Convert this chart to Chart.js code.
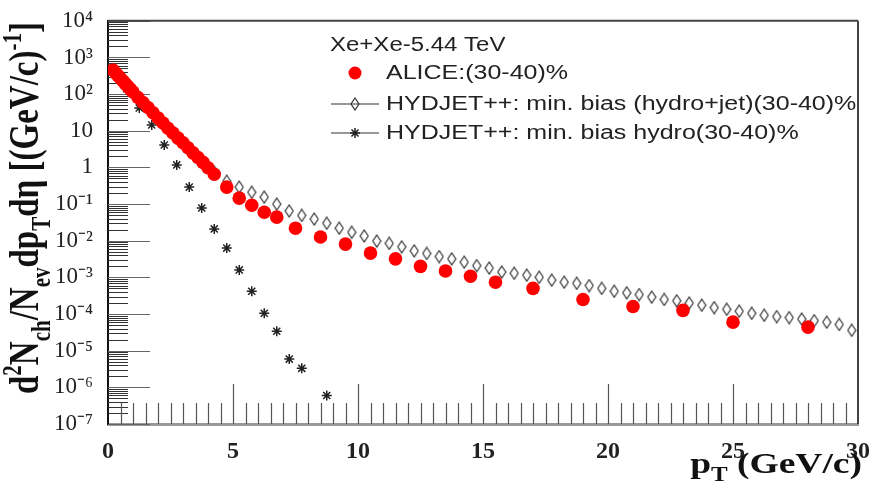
<!DOCTYPE html>
<html>
<head>
<meta charset="utf-8">
<script src="https://cdn.jsdelivr.net/npm/chart.js@4.4.1/dist/chart.umd.min.js"></script>
<style>
  html, body { margin: 0; padding: 0; background: #fff; }
  #wrap { width: 875px; height: 491px; }
</style>
</head>
<body>
<div id="wrap"><canvas id="spectra" width="875" height="491"></canvas></div>
<script>
// valori (pT in GeV/c, resa in (GeV/c)^-1)
const alicePt = [0.2, 0.3, 0.4, 0.5, 0.6, 0.7, 0.8, 0.9, 1.0,
  1.2, 1.4, 1.6, 1.8, 2.0, 2.2, 2.4, 2.6, 2.8, 3.0, 3.2, 3.4, 3.6, 3.8, 4.0,
  4.25, 4.75, 5.25, 5.75, 6.25, 6.75,
  7.5, 8.5, 9.5, 10.5, 11.5, 12.5, 13.5, 14.5, 15.5,
  17, 19, 21, 23, 25, 28];
const aliceYield = [455, 380, 320, 270, 228, 190, 160, 135, 114,
  81, 59, 43, 31, 22.4, 16.3, 11.7, 8.7, 6.3, 4.7, 3.45, 2.5, 1.86, 1.37, 0.98,
  0.65, 0.29, 0.145, 0.093, 0.060, 0.044,
  0.022, 0.0126, 0.0081, 0.0046, 0.0032, 0.0020, 0.0015, 0.00107, 0.00074,
  5.0e-4, 2.5e-4, 1.6e-4, 1.26e-4, 6.0e-5, 4.4e-5];

const hydroJetPt = [0.25, 0.75, 1.25, 1.75, 2.25, 2.75, 3.25, 3.75, 4.25, 4.75,
  5.25, 5.75, 6.25, 6.75, 7.25, 7.75, 8.25, 8.75, 9.25, 9.75,
  10.25, 10.75, 11.25, 11.75, 12.25, 12.75, 13.25, 13.75, 14.25, 14.75,
  15.25, 15.75, 16.25, 16.75, 17.25, 17.75, 18.25, 18.75, 19.25, 19.75,
  20.25, 20.75, 21.25, 21.75, 22.25, 22.75, 23.25, 23.75, 24.25, 24.75,
  25.25, 25.75, 26.25, 26.75, 27.25, 27.75, 28.25, 28.75, 29.25, 29.75];
const hydroJetYield = [420, 180, 75, 33, 15, 6.8, 3.2, 1.5, 0.75, 0.42,
  0.29, 0.21, 0.155, 0.10, 0.065, 0.049, 0.039, 0.030, 0.022, 0.017,
  0.0135, 0.0098, 0.0085, 0.0068, 0.0053, 0.0045, 0.0037, 0.0032, 0.0026, 0.0021,
  0.0018, 0.0014, 0.0013, 0.00115, 0.00101, 8.4e-4, 7.4e-4, 6.9e-4, 6.0e-4, 5.0e-4,
  4.2e-4, 3.8e-4, 3.4e-4, 2.9e-4, 2.5e-4, 2.3e-4, 2.0e-4, 1.75e-4, 1.5e-4, 1.35e-4,
  1.2e-4, 1.05e-4, 9.3e-5, 8.5e-5, 8.0e-5, 7.3e-5, 6.6e-5, 6.0e-5, 5.2e-5, 3.6e-5];

const hydroPt = [0.25, 0.75, 1.25, 1.75, 2.25, 2.75, 3.25, 3.75, 4.25, 4.75,
  5.25, 5.75, 6.25, 6.75, 7.25, 7.75, 8.75];
const hydroYield = [420, 140, 42, 14.4, 4.1, 1.17, 0.29, 0.078, 0.021, 0.0063,
  0.0016, 4.2e-4, 1.05e-4, 3.4e-5, 5.9e-6, 3.3e-6, 6.0e-7];

const xTickValues = [0, 5, 10, 15, 20, 25, 30];
const yTickValues = [1e-7, 1e-6, 1e-5, 1e-4, 1e-3, 1e-2, 1e-1, 1, 10, 1e2, 1e3, 1e4];
const yTickLabels = ['10⁻⁷', '10⁻⁶', '10⁻⁵', '10⁻⁴', '10⁻³', '10⁻²', '10⁻¹', '1', '10', '10²', '10³', '10⁴'];

const legendHeader = 'Xe+Xe-5.44 TeV';
const seriesNames = ['ALICE:(30-40)%', 'HYDJET++: min. bias (hydro+jet)(30-40)%', 'HYDJET++: min. bias hydro(30-40)%'];

const zip = (xs, ys) => xs.map((x, i) => ({ x: x, y: ys[i] }));

// marcatore a rombo vuoto (stile ROOT)
function makeDiamond() {
  const c = document.createElement('canvas');
  c.width = 10; c.height = 14;
  const g = c.getContext('2d');
  g.strokeStyle = '#333';
  g.lineWidth = 1.2;
  g.beginPath();
  g.moveTo(5, 1); g.lineTo(9, 7); g.lineTo(5, 13); g.lineTo(1, 7);
  g.closePath();
  g.stroke();
  return c;
}
const diamond = makeDiamond();

const SX = 1.25; // testo allargato in orizzontale come nell'originale

function drawRich(ctx, segs, size, family, weight) {
  const fontOf = s => `${weight} ${s.sub || s.sup ? Math.round(size * 0.65) : size}px ${family}`;
  let w = 0;
  segs.forEach(s => { ctx.font = fontOf(s); w += ctx.measureText(s.t).width; });
  return {
    width: w,
    draw(x0) {
      let x = x0;
      segs.forEach(s => {
        ctx.font = fontOf(s);
        const dy = s.sub ? size * 0.28 : (s.sup ? -size * 0.42 : 0);
        ctx.fillText(s.t, x, dy);
        x += ctx.measureText(s.t).width;
      });
    }
  };
}

// tacche interne, cornice, titoli e legenda
const rootFrame = {
  id: 'rootFrame',
  beforeDatasetsDraw(chart) {
    const { ctx, chartArea: a, scales: { x, y } } = chart;
    ctx.save();
    const line = (x1, y1, x2, y2) => { ctx.beginPath(); ctx.moveTo(x1, y1); ctx.lineTo(x2, y2); ctx.stroke(); };

    // tacche minori asse y
    ctx.strokeStyle = '#333';
    ctx.lineWidth = 1;
    for (let e = -7; e < 4; e++) {
      for (let m = 2; m < 10; m++) {
        const py = Math.round(y.getPixelForValue(m * Math.pow(10, e))) + 0.5;
        line(a.left, py, a.left + 20, py);
      }
    }
    // tacche maggiori asse y
    ctx.strokeStyle = '#666';
    yTickValues.forEach(v => {
      const py = Math.round(y.getPixelForValue(v)) + 0.5;
      line(a.left, py, a.left + 42, py);
    });

    // tacche asse x (ogni 0.5, maggiori ogni 5)
    ctx.strokeStyle = '#555';
    ctx.lineWidth = 1.2;
    for (let i = 1; i < 60; i++) {
      const px = Math.round(x.getPixelForValue(i * 0.5)) + 0.5;
      line(px, a.bottom, px, a.bottom - (i % 10 === 0 ? 40 : 21));
    }

    // cornice superiore e destra
    ctx.strokeStyle = '#444';
    ctx.lineWidth = 2;
    line(a.left, a.top, a.right, a.top);
    line(a.right, a.top, a.right, a.bottom);
    ctx.restore();
  },
  afterDraw(chart) {
    const { ctx } = chart;
    ctx.save();
    ctx.fillStyle = '#111';
    ctx.textBaseline = 'alphabetic';

    // titolo asse y
    const yt = drawRich(ctx, [
      { t: 'd' }, { t: '2', sup: true }, { t: 'N' }, { t: 'ch', sub: true },
      { t: '/N' }, { t: 'ev', sub: true }, { t: 'dp' }, { t: 'T', sub: true },
      { t: 'dη [(GeV/c)' }, { t: '-1', sup: true }, { t: ']' }
    ], 33, '"Liberation Serif"', 'bold');
    ctx.save();
    ctx.translate(38, 208);
    ctx.scale(SX, 1);
    ctx.rotate(-Math.PI / 2);
    yt.draw(-yt.width / 2);
    ctx.restore();

    // titolo asse x
    const xt = drawRich(ctx, [{ t: 'p' }, { t: 'T', sub: true }, { t: ' (GeV/c)' }], 30, '"Liberation Serif"', 'bold');
    ctx.save();
    ctx.translate(862, 473);
    ctx.scale(SX, 1);
    xt.draw(-xt.width);
    ctx.restore();

    // legenda
    ctx.font = '20px "Liberation Sans"';
    ctx.fillStyle = '#222';
    ctx.textBaseline = 'middle';
    const text = (s, tx, ty, k) => { ctx.save(); ctx.translate(tx, ty); ctx.scale(k, 1); ctx.fillText(s, 0, 0); ctx.restore(); };
    text(legendHeader, 330, 45, 1.2);

    const rows = [73, 104, 133];
    const mx = 355, tx = 386;
    ctx.fillStyle = '#f00';
    ctx.beginPath(); ctx.arc(mx, rows[0], 6.5, 0, Math.PI * 2); ctx.fill();

    ctx.strokeStyle = '#333';
    ctx.lineWidth = 1.2;
    [rows[1], rows[2]].forEach(ry => {
      ctx.beginPath(); ctx.moveTo(331, ry); ctx.lineTo(379, ry); ctx.stroke();
    });
    ctx.drawImage(diamond, mx - diamond.width / 2, rows[1] - diamond.height / 2);
    ctx.strokeStyle = '#222';
    ctx.lineWidth = 1.5;
    Chart.helpers.drawPoint(ctx, { pointStyle: 'star', radius: 5, borderWidth: 1.5 }, mx, rows[2]);

    ctx.fillStyle = '#222';
    seriesNames.forEach((s, i) => text(s, tx, rows[i], SX));
    ctx.restore();
  }
};

new Chart(document.getElementById('spectra'), {
  type: 'scatter',
  data: {
    datasets: [
      {
        label: seriesNames[0],
        data: zip(alicePt, aliceYield),
        pointStyle: 'circle',
        pointRadius: 6.8,
        backgroundColor: '#ff0000',
        borderColor: '#ff0000',
        borderWidth: 0,
        order: 0
      },
      {
        label: seriesNames[1],
        data: zip(hydroJetPt, hydroJetYield),
        pointStyle: diamond,
        pointRadius: 6,
        order: 1
      },
      {
        label: seriesNames[2],
        data: zip(hydroPt, hydroYield),
        pointStyle: 'star',
        pointRadius: 5,
        borderColor: '#222',
        borderWidth: 1.5,
        order: 2
      }
    ]
  },
  options: {
    responsive: false,
    animation: false,
    events: [],
    layout: { padding: { top: 20, right: 12, left: 0, bottom: 0 } },
    plugins: { legend: { display: false }, tooltip: { enabled: false } },
    scales: {
      x: {
        type: 'linear',
        min: 0,
        max: 30,
        afterBuildTicks: s => { s.ticks = xTickValues.map(v => ({ value: v })); },
        afterFit: s => { s.height = 67; },
        grid: { display: false },
        border: { color: '#999', width: 3 },
        ticks: {
          autoSkip: false,
          maxRotation: 0,
          padding: 5,
          color: '#222',
          font: { family: '"Liberation Serif"', size: 24, weight: 'bold' }
        }
      },
      y: {
        type: 'logarithmic',
        min: 1e-7,
        max: 1e4,
        afterBuildTicks: s => { s.ticks = yTickValues.map(v => ({ value: v })); },
        afterFit: s => { s.width = 108; },
        grid: { display: false },
        border: { color: '#111', width: 2 },
        ticks: {
          autoSkip: false,
          padding: 7,
          color: '#222',
          font: { family: '"Liberation Serif"', size: 23 },
          callback: (v, i) => yTickLabels[i]
        }
      }
    }
  },
  plugins: [rootFrame]
});
</script>
</body>
</html>
